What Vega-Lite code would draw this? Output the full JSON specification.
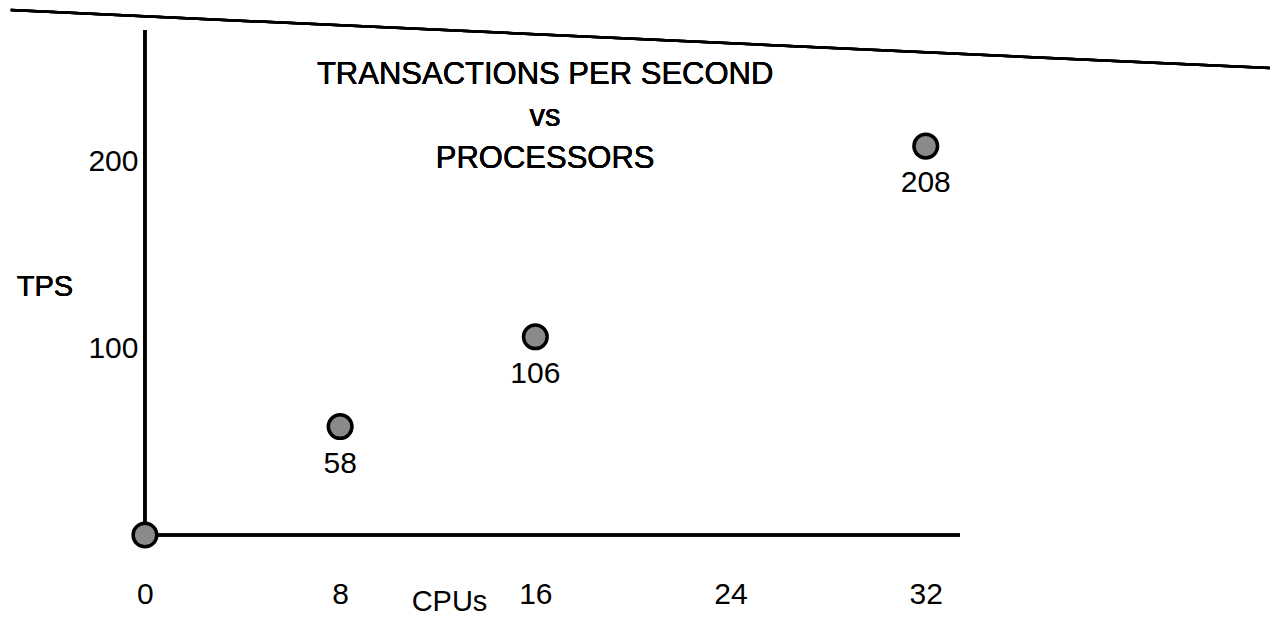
{
  "$schema": "https://vega.github.io/schema/vega-lite/v6.json",
  "autosize": {"type": "none"},
  "padding": {"left": 0, "top": 0, "right": 0, "bottom": 103},
  "width": 1282,
  "height": 535,
  "background": "white",
  "config": {"view": {"stroke": null}, "font": "Liberation Sans"},
  "data": {"values": [
    {"cpus": 0, "tps": 0, "label": ""},
    {"cpus": 8, "tps": 58, "label": "58"},
    {"cpus": 16, "tps": 106, "label": "106"},
    {"cpus": 32, "tps": 208, "label": "208"}
  ]},
  "layer": [
    {
      "mark": {"type": "rule", "stroke": "black", "strokeWidth": 2.5},
      "encoding": {
        "x": {"datum": -5.5, "type": "quantitative"},
        "x2": {"datum": 46.1},
        "y": {"datum": 280.7, "type": "quantitative"},
        "y2": {"datum": 249.7}
      }
    },
    {
      "mark": {"type": "rule", "stroke": "black", "strokeWidth": 3},
      "encoding": {
        "x": {"datum": 0, "type": "quantitative"},
        "x2": {"datum": 33.4},
        "y": {"datum": 0, "type": "quantitative"},
        "y2": {"datum": 0}
      }
    },
    {
      "mark": {"type": "rule", "stroke": "black", "strokeWidth": 3},
      "encoding": {
        "x": {"datum": 0, "type": "quantitative"},
        "x2": {"datum": 0},
        "y": {"datum": 0, "type": "quantitative"},
        "y2": {"datum": 270}
      }
    },
    {
      "mark": {"type": "point", "filled": true, "fill": "#8a8a8a", "stroke": "black", "strokeWidth": 3.5, "size": 560, "shape": "circle", "opacity": 1},
      "encoding": {
        "x": {
          "field": "cpus", "type": "quantitative",
          "scale": {"domain": [-5.94, 46.6], "nice": false, "zero": false},
          "axis": {
            "orient": "bottom", "domain": false, "ticks": false, "grid": false,
            "values": [0, 8, 16, 24, 32], "labelFontSize": 30, "labelPadding": 44,
            "labelColor": "black", "labelFont": "Liberation Sans",
            "title": "CPUs", "titleX": 449, "titleY": 52, "titleFontSize": 29,
            "titleFontWeight": "normal", "titleColor": "black", "titleFont": "Liberation Sans"
          }
        },
        "y": {
          "field": "tps", "type": "quantitative",
          "scale": {"domain": [0, 286.1], "nice": false, "zero": false},
          "axis": {
            "orient": "left", "offset": -145, "domain": false, "ticks": false, "grid": false,
            "values": [100, 200], "labelFontSize": 30, "labelPadding": 7,
            "labelColor": "black", "labelFont": "Liberation Sans", "title": null
          }
        }
      }
    },
    {
      "mark": {"type": "text", "fontSize": 30, "dy": 37, "color": "black", "font": "Liberation Sans"},
      "encoding": {
        "x": {"field": "cpus", "type": "quantitative"},
        "y": {"field": "tps", "type": "quantitative"},
        "text": {"field": "label"}
      }
    },
    {
      "mark": {"type": "text", "fontSize": 31, "lineHeight": 42, "align": "center", "baseline": "middle", "color": "black", "font": "Liberation Sans"},
      "encoding": {
        "x": {"datum": 16.4, "type": "quantitative"},
        "y": {"datum": 246, "type": "quantitative"},
        "text": {"value": ["TRANSACTIONS PER SECOND", "vs", "PROCESSORS"]}
      }
    },
    {
      "mark": {"type": "text", "fontSize": 29, "align": "center", "baseline": "middle", "color": "black", "font": "Liberation Sans"},
      "encoding": {
        "x": {"datum": -4.1, "type": "quantitative"},
        "y": {"datum": 132.6, "type": "quantitative"},
        "text": {"value": "TPS"}
      }
    }
  ]
}
